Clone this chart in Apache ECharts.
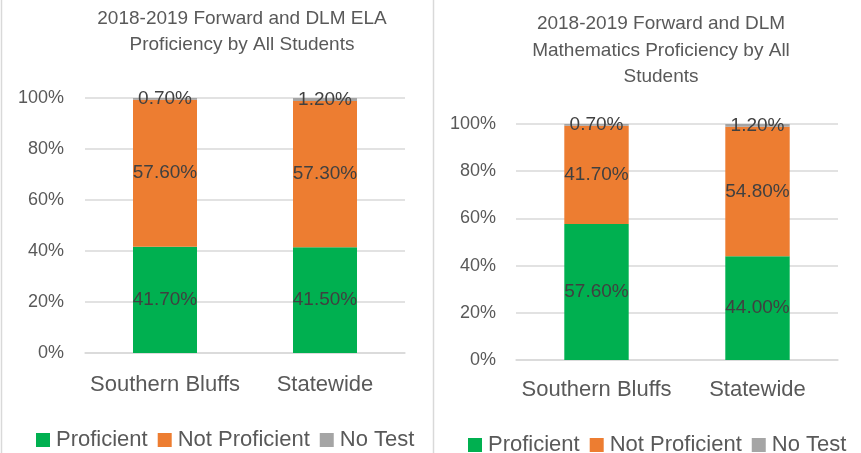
<!DOCTYPE html>
<html>
<head>
<meta charset="utf-8">
<script src="https://cdn.jsdelivr.net/npm/echarts@6/dist/echarts.min.js"></script>
<style>
  html, body { margin: 0; padding: 0; background: #fff; }
  #main { width: 861px; height: 453px; }
</style>
</head>
<body>
<div id="main"></div>
<script>
var categories = ['Southern Bluffs', 'Statewide'];
var seriesNames = ['Proficient', 'Not Proficient', 'No Test'];
var colors = ['#00B050', '#ED7D31', '#A5A5A5'];

// ELA
var elaProficient = [41.7, 41.5];
var elaNotProficient = [57.6, 57.3];
var elaNoTest = [0.7, 1.2];

// Mathematics
var mathProficient = [57.6, 44.0];
var mathNotProficient = [41.7, 54.8];
var mathNoTest = [0.7, 1.2];

var yTicks = { min: 0, max: 100, interval: 20 };

var myChart = echarts.init(document.getElementById('main'));

var font = 'Liberation Sans';
var textColor = '#595959';

function xAxisFor(idx, margin) {
  return {
    type: 'category',
    gridIndex: idx,
    data: categories,
    axisTick: { show: false },
    axisLine: { lineStyle: { color: '#d9d9d9', width: 1.5 } },
    axisLabel: { color: textColor, fontSize: 22, fontFamily: font, margin: margin, interval: 0 }
  };
}

function yAxisFor(idx, margin) {
  return {
    type: 'value',
    gridIndex: idx,
    min: yTicks.min,
    max: yTicks.max,
    interval: yTicks.interval,
    axisLine: { show: false },
    axisTick: { show: false },
    splitLine: { lineStyle: { color: '#d9d9d9', width: 1.5 } },
    axisLabel: { color: textColor, fontSize: 18, fontFamily: font, margin: margin, formatter: '{value}%' }
  };
}

function barSeries(name, data, idx, stack, color) {
  return {
    name: name,
    type: 'bar',
    stack: stack,
    xAxisIndex: idx,
    yAxisIndex: idx,
    data: data,
    barWidth: '40%',
    itemStyle: { color: color },
    label: {
      show: true,
      position: 'inside',
      color: '#404040',
      fontSize: 19,
      fontFamily: font,
      formatter: function (p) { return p.value.toFixed(2) + '%'; }
    }
  };
}

var legendBase = {
  data: seriesNames,
  itemWidth: 14,
  itemHeight: 14,
  itemGap: 10,
  icon: 'rect',
  textStyle: { color: textColor, fontSize: 22, fontFamily: font, padding: [0, 0, 0, 1] }
};

myChart.setOption({
  animation: false,
  textStyle: { fontFamily: font },
  title: [
    {
      text: '2018-2019 Forward and DLM ELA\nProficiency by All Students',
      left: 237,
      top: 1,
      textAlign: 'center',
      textStyle: { color: textColor, fontSize: 19, fontWeight: 'normal', fontFamily: font, lineHeight: 26 }
    },
    {
      text: '2018-2019 Forward and DLM\nMathematics Proficiency by All\nStudents',
      left: 656,
      top: 6,
      textAlign: 'center',
      textStyle: { color: textColor, fontSize: 19, fontWeight: 'normal', fontFamily: font, lineHeight: 26.5 }
    }
  ],
  legend: [
    Object.assign({ left: 31, top: 424 }, legendBase),
    Object.assign({ left: 463, top: 429 }, legendBase)
  ],
  grid: [
    { left: 85, right: 456, top: 98, bottom: 100 },
    { left: 516, right: 23, top: 124, bottom: 93 }
  ],
  xAxis: [xAxisFor(0, 21), xAxisFor(1, 19)],
  yAxis: [yAxisFor(0, 21), yAxisFor(1, 20)],
  series: [
    barSeries(seriesNames[0], elaProficient, 0, 'ela', colors[0]),
    barSeries(seriesNames[1], elaNotProficient, 0, 'ela', colors[1]),
    barSeries(seriesNames[2], elaNoTest, 0, 'ela', colors[2]),
    barSeries(seriesNames[0], mathProficient, 1, 'math', colors[0]),
    barSeries(seriesNames[1], mathNotProficient, 1, 'math', colors[1]),
    barSeries(seriesNames[2], mathNoTest, 1, 'math', colors[2])
  ],
  graphic: [
    { type: 'line', shape: { x1: 1.5, y1: 0, x2: 1.5, y2: 453 }, style: { stroke: '#d9d9d9', lineWidth: 1.5 } },
    { type: 'line', shape: { x1: 433.5, y1: 0, x2: 433.5, y2: 453 }, style: { stroke: '#d9d9d9', lineWidth: 1.5 } }
  ]
});
</script>
</body>
</html>
